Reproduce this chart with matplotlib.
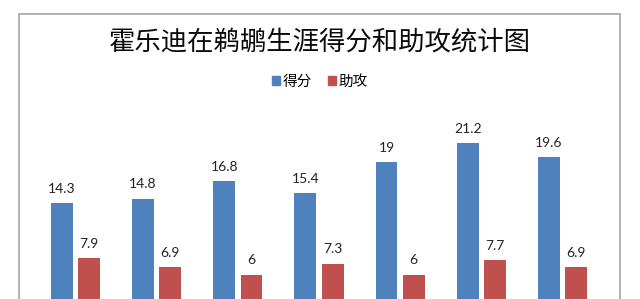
import matplotlib
matplotlib.use("Agg")
import matplotlib.pyplot as plt
from matplotlib.patches import Rectangle, Patch
import numpy as np

plt.rcParams['font.family'] = ['Noto Sans CJK SC', 'DejaVu Sans']

# data
seasons = ['1', '2', '3', '4', '5', '6', '7']
points = [14.3, 14.8, 16.8, 15.4, 19, 21.2, 19.6]
assists = [7.9, 6.9, 6, 7.3, 6, 7.7, 6.9]
labels = ['得分', '助攻']
title = '霍乐迪在鹈鹕生涯得分和助攻统计图'

blue = '#4F81BD'
red = '#C0504D'

W, H = 640, 299
fig = plt.figure(figsize=(W / 100, H / 100), dpi=100)
fig.patch.set_facecolor('white')

# chart border (bottom is cut off in the picture)
fig.patches.append(Rectangle((19 / W, -0.2), 601 / W, 1.2 - 14 / H,
                             transform=fig.transFigure, fill=False,
                             edgecolor='#A6A6A6', linewidth=1.2))

ax = fig.add_axes([35 / W, 0, 568 / W, (299 - 100) / H])
x = np.arange(len(seasons))
off, w = 0.168, 0.27
b1 = ax.bar(x - off, points, w, color=blue, zorder=2)
b2 = ax.bar(x + off, assists, w, color=red, zorder=2)

for bars, vals in ((b1, points), (b2, assists)):
    for r, v in zip(bars, vals):
        ax.annotate(f'{v:g}', (r.get_x() + r.get_width() / 2, v),
                    xytext=(0, 6), textcoords='offset points',
                    ha='center', va='bottom', fontsize=10,
                    family=['Lato', 'DejaVu Sans'], color='#222222')

ax.set_xlim(-0.5, len(seasons) - 0.5)
ax.set_ylim(3.2, 26.2)
ax.axis('off')

fig.text(0.5, 1 - 42.5 / H, title, ha='center', va='center',
         fontsize=19, color='#0A0A0A')

handles = [Patch(color=blue), Patch(color=red)]
fig.legend(handles, labels, loc='center', bbox_to_anchor=(0.5, 1 - 82 / H),
           ncol=2, frameon=False, fontsize=10.5, handlelength=0.55,
           handleheight=0.55, handletextpad=0.2, columnspacing=1.1)

fig.savefig('out.png', dpi=100)
